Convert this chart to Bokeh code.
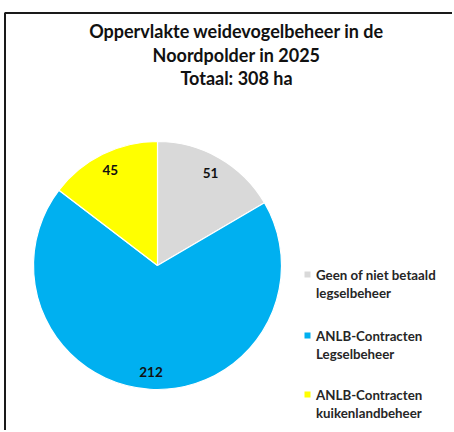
import math
from bokeh.plotting import figure
from bokeh.models import Range1d, ColumnDataSource
from bokeh.core.properties import value
from bokeh.embed import file_html
from bokeh.resources import INLINE

# ---- data ----
title_lines = ["Oppervlakte weidevogelbeheer in de", "Noordpolder in 2025", "Totaal: 308 ha"]
categories = ["Geen of niet betaald\nlegselbeheer",
              "ANLB-Contracten\nLegselbeheer",
              "ANLB-Contracten\nkuikenlandbeheer"]
values = [51, 212, 45]
colors = ["#D9D9D9", "#00B0F0", "#FFFF00"]

FONT = "Lato"
W, H = 452, 430
# pie centre at data (0, 0); 1 data unit = 1 px
CX, CY = 157, 265   # pie centre in page pixels
R = 124

p = figure(width=W, height=H, output_backend="svg", toolbar_location=None,
           x_range=Range1d(-CX, W - CX), y_range=Range1d(CY - H, CY),
           min_border=0, outline_line_color=None)
p.axis.visible = False
p.grid.visible = False
p.background_fill_color = "white"
p.border_fill_color = "white"

# frame border (left + top, chart is cropped on the other sides)
p.line(x=[4.5 - CX, 4.5 - CX, W - CX], y=[CY - H, CY - 12.5, CY - 12.5],
       line_color="#1a1a1a", line_width=2)

total = sum(values)
starts, ends, mids = [], [], []
cum = 0
for v in values:
    a0 = math.pi / 2 - cum / total * 2 * math.pi
    cum += v
    a1 = math.pi / 2 - cum / total * 2 * math.pi
    starts.append(a0)
    ends.append(a1)
    mids.append((a0 + a1) / 2)

src = ColumnDataSource(dict(start=starts, end=ends, color=colors, val=values))
p.wedge(x=0, y=0, radius=R, start_angle="start", end_angle="end", direction="clock",
        fill_color="color", line_color="white", line_width=1.2, source=src)

# data labels
lr = 0.86 * R
lab = ColumnDataSource(dict(x=[lr * math.cos(m) for m in mids],
                            y=[lr * math.sin(m) for m in mids],
                            t=[str(v) for v in values]))
p.text(x="x", y="y", text="t", source=lab, text_font=value(FONT), text_font_style="bold",
       text_font_size="13.5px", text_align="center", text_baseline="middle", text_color="#111111")

# title
ty = [CY - 30, CY - 54, CY - 77.5]
p.text(x=[236 - CX] * 3, y=ty, text=title_lines, text_font=value(FONT), text_font_style="bold",
       text_font_size="18px", text_align="center", text_baseline="middle", text_color="#111111")

# legend
leg_y = [CY - 274, CY - 335, CY - 394]
l1 = [c.split("\n")[0] for c in categories]
l2 = [c.split("\n")[1] for c in categories]
p.scatter(x=[307 - CX] * 3, y=leg_y, marker="square", size=6, fill_color=colors, line_color=None)
p.text(x=[315.5 - CX] * 3, y=leg_y, text=l1, text_font=value(FONT), text_font_style="bold",
       text_font_size="13.3px", text_align="left", text_baseline="middle", text_color="#262626")
p.text(x=[315.5 - CX] * 3, y=[v - 18 for v in leg_y], text=l2, text_font=value(FONT), text_font_style="bold",
       text_font_size="13.3px", text_align="left", text_baseline="middle", text_color="#262626")

open("out.html", "w").write(file_html(p, INLINE))
